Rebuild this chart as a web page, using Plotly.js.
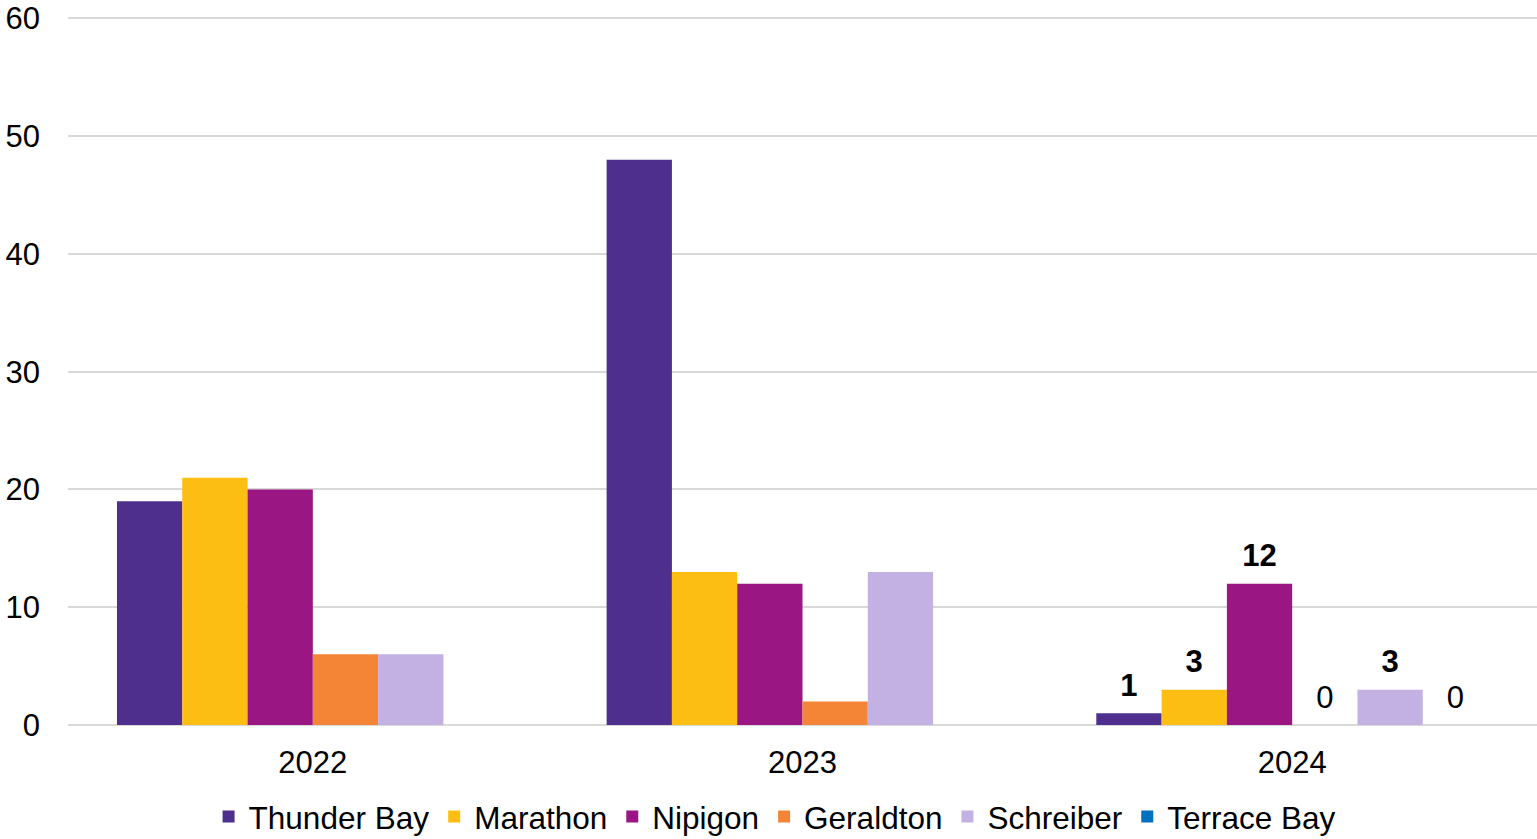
<!DOCTYPE html>
<html>
<head>
<meta charset="utf-8">
<script src="https://cdn.plot.ly/plotly-3.0.1.min.js"></script>
<style>html,body{margin:0;padding:0;background:#fff;}#chart{width:1537px;height:839px;}</style>
</head>
<body>
<div id="chart"></div>
<script>
const years = ["2022", "2023", "2024"];
const seriesNames = ["Thunder Bay", "Marathon", "Nipigon", "Geraldton", "Schreiber", "Terrace Bay"];
const thunderBay = [19, 48, 1];
const marathon = [21, 13, 3];
const nipigon = [20, 12, 12];
const geraldton = [6, 2, 0];
const schreiber = [6, 13, 3];
const terraceBay = [0, 0, 0];
const labeledYear = "2024";
const yTicks = [0, 10, 20, 30, 40, 50, 60];
const colors = ["#4E2F8E", "#FDBE14", "#991683", "#F48536", "#C3B1E3", "#0070C0"];

const FONT = "Liberation Sans, Arial, sans-serif";
const allValues = [thunderBay, marathon, nipigon, geraldton, schreiber, terraceBay];

const barTraces = allValues.map((vals, i) => ({
  type: "bar",
  name: seriesNames[i],
  x: years,
  y: vals,
  offsetgroup: String(i),
  marker: {color: colors[i], line: {width: 0}},
  hoverinfo: "x+y+name"
}));

// label traces (grouped scatter aligned with the bars), labels only for the labelled year
const labelTraces = allValues.map((vals, i) => ({
  type: "scatter",
  mode: "markers+text",
  orientation: "v",
  offsetgroup: String(i),
  x: years,
  y: vals,
  showlegend: false,
  cliponaxis: false,
  marker: {size: 14, opacity: 0, color: colors[i]},
  text: vals.map((v, j) => years[j] === labeledYear ? (v === 0 ? String(v) : "<b>" + v + "</b>") : ""),
  textposition: "top center",
  textfont: {family: FONT, size: 31, color: "#000"},
  hoverinfo: "skip"
}));

const layout = {
  width: 1537,
  height: 839,
  margin: {l: 68, r: 0, t: 15.64, b: 114, autoexpand: false},
  paper_bgcolor: "#fff",
  plot_bgcolor: "#fff",
  font: {family: FONT, size: 31, color: "#000"},
  barmode: "group",
  bargap: 0.2,
  bargroupgap: 0,
  scattermode: "group",
  scattergap: 0.2,
  showlegend: true,
  legend: {
    orientation: "h",
    x: 0.481, xanchor: "center",
    yref: "container",
    y: 0.059, yanchor: "top",
    font: {size: 31.5, color: "#000"},
    itemwidth: 30,
    tracegroupgap: 0
  },
  xaxis: {
    type: "category",
    showgrid: false,
    showline: false,
    zeroline: false,
    ticks: "",
    tickfont: {size: 31, color: "#000"},
    ticklabelstandoff: 16
  },
  yaxis: {
    range: [0, 60.2],
    tickvals: yTicks,
    ticktext: yTicks.map(String),
    showgrid: true,
    gridcolor: "#d9d9d9",
    gridwidth: 2,
    zeroline: true,
    zerolinecolor: "#d9d9d9",
    zerolinewidth: 2,
    showline: false,
    ticks: "",
    tickfont: {size: 31, color: "#000"},
    ticklabelstandoff: 27
  }
};

Plotly.newPlot("chart", barTraces.concat(labelTraces), layout, {displayModeBar: false, staticPlot: true});
</script>
</body>
</html>
